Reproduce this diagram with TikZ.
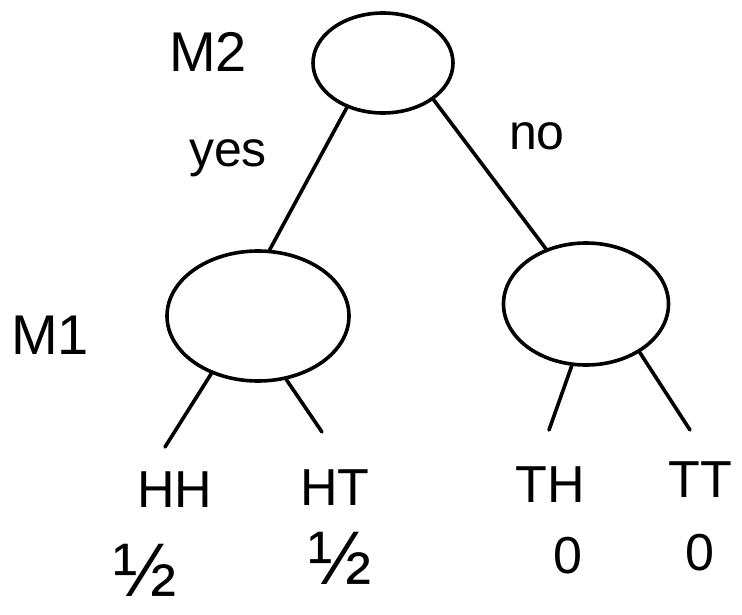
\documentclass[tikz,border=0pt]{standalone}
\usepackage{fontspec}
\setmainfont{Liberation Sans}
\usetikzlibrary{shapes.geometric}
\begin{document}
\begin{tikzpicture}[x=1pt,y=-1pt,
  pen/.style={line width=3.6pt,line cap=round,line join=round},
  chance/.style={pen,draw,ellipse,inner sep=0pt},
  tag/.style={inner sep=0pt,font=\fontsize{56}{60}\selectfont},
  word/.style={inner sep=0pt,font=\fontsize{50}{54}\selectfont},
  leaf/.style={inner sep=0pt,font=\fontsize{52}{56}\selectfont},
  zero/.style={inner sep=0pt,font=\fontsize{52}{56}\selectfont},
  prob/.style={inner sep=0pt,font=\fontsize{76}{80}\selectfont}]
\useasboundingbox (0,0) rectangle (742,615);
% decision nodes
\node[chance,minimum width=140pt,minimum height=100pt] (root) at (383,63) {};
\node[chance,minimum width=182pt,minimum height=130pt] (left) at (258,316) {};
\node[chance,minimum width=165pt,minimum height=122pt] (right) at (586,304) {};
% node labels
\node[tag] (m2) at (208,52) {M2};
\node[tag] (m1) at (50,335) {M1};
\node[word] (yes) at (228,158) {yes};
\node[word] (no) at (537,136) {no};
% outcomes
\node[leaf] (hh) at (175,490) {HH};
\node[leaf] (ht) at (335,488) {HT};
\node[leaf] (th) at (550,485) {TH};
\node[leaf] (tt) at (700,480) {TT};
\node[prob] (phh) at (145,570) {½};
\node[prob] (pht) at (340,558) {½};
\node[zero] (pth) at (568,556) {0};
\node[zero] (ptt) at (700,553) {0};
% free ends of the outcome branches
\coordinate (ehh) at (165,447);
\coordinate (eht) at (322,432);
\coordinate (eth) at (549,430);
\coordinate (ett) at (690,430);
% branches
\draw[pen] (root.231) -- (left.80);
\draw[pen] (root.324) -- (right.126);
\draw[pen] (left.231) -- (ehh);
\draw[pen] (left.294) -- (eht);
\draw[pen] (right.257) -- (eth);
\draw[pen] (right.318) -- (ett);
\end{tikzpicture}
\end{document}
